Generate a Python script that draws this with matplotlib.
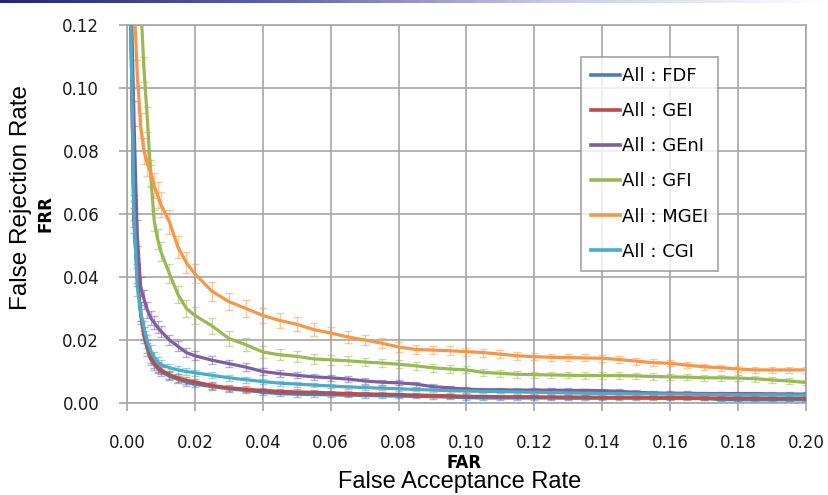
import numpy as np
import matplotlib
matplotlib.use("Agg")
import matplotlib.pyplot as plt
from matplotlib.colors import LinearSegmentedColormap

# ---------------- data ----------------
far = [0.001, 0.002, 0.003, 0.004, 0.005, 0.006, 0.007, 0.008, 0.009, 0.010,
       0.0125, 0.015, 0.0175, 0.020,
       0.025, 0.030, 0.035, 0.040, 0.045, 0.050, 0.055, 0.060, 0.065, 0.070,
       0.075, 0.080, 0.085, 0.090, 0.095, 0.100, 0.105, 0.110, 0.115, 0.120,
       0.125, 0.130, 0.135, 0.140, 0.145, 0.150, 0.155, 0.160, 0.165, 0.170,
       0.175, 0.180, 0.185, 0.190, 0.195, 0.200]

frr_fdf = [0.130, 0.058, 0.040, 0.028, 0.021, 0.017, 0.0138, 0.0122, 0.0110, 0.0100,
           0.0085, 0.0075, 0.0066, 0.0060,
           0.0052, 0.0045, 0.0040, 0.0034, 0.0030, 0.0028, 0.0027, 0.0026, 0.0025, 0.0024,
           0.0023, 0.0022, 0.0021, 0.0020, 0.0019, 0.0017, 0.0016, 0.0016, 0.0016, 0.0016,
           0.0016, 0.0015, 0.0015, 0.0015, 0.0015, 0.0015, 0.0015, 0.0014, 0.0014, 0.0014,
           0.0011, 0.0010, 0.0010, 0.0010, 0.0010, 0.0010]
frr_gei = [0.130, 0.060, 0.041, 0.029, 0.022, 0.018, 0.0145, 0.0128, 0.0115, 0.0105,
           0.0090, 0.0080, 0.0072, 0.0067,
           0.0056, 0.0048, 0.0044, 0.0040, 0.0037, 0.0035, 0.0034, 0.0032, 0.0030, 0.0029,
           0.0028, 0.0027, 0.0025, 0.0024, 0.0023, 0.0021, 0.0021, 0.0020, 0.0020, 0.0020,
           0.0019, 0.0019, 0.0019, 0.0018, 0.0018, 0.0018, 0.0017, 0.0017, 0.0017, 0.0016,
           0.0016, 0.0016, 0.0016, 0.0015, 0.0015, 0.0015]
frr_geni = [0.140, 0.092, 0.054, 0.037, 0.033, 0.0295, 0.027, 0.0255, 0.024, 0.0228,
            0.0200, 0.0180, 0.0160, 0.0150,
            0.0136, 0.0125, 0.0114, 0.0100, 0.0093, 0.0088, 0.0083, 0.0080, 0.0076, 0.0070,
            0.0066, 0.0064, 0.0060, 0.0052, 0.0048, 0.0044, 0.0042, 0.0042, 0.0041, 0.0041,
            0.0041, 0.0040, 0.0040, 0.0039, 0.0037, 0.0034, 0.0032, 0.0031, 0.0031, 0.0030,
            0.0030, 0.0030, 0.0030, 0.0029, 0.0029, 0.0028]
frr_gfi = [0.220, 0.190, 0.160, 0.128, 0.106, 0.090, 0.072, 0.058, 0.052, 0.048,
           0.041, 0.0345, 0.030, 0.0278,
           0.0245, 0.0205, 0.0185, 0.0162, 0.0153, 0.0148, 0.0140, 0.0137, 0.0134, 0.0130,
           0.0127, 0.0123, 0.0118, 0.0112, 0.0108, 0.0105, 0.0097, 0.0094, 0.0091, 0.0090,
           0.0089, 0.0088, 0.0087, 0.0087, 0.0087, 0.0086, 0.0084, 0.0083, 0.0082, 0.0080,
           0.0080, 0.0079, 0.0077, 0.0073, 0.0070, 0.0065]
frr_mgei = [0.160, 0.130, 0.105, 0.088, 0.080, 0.076, 0.073, 0.069, 0.066, 0.063,
            0.0575, 0.0495, 0.0445, 0.041,
            0.0355, 0.0322, 0.0300, 0.0278, 0.0262, 0.0250, 0.0233, 0.0222, 0.0210, 0.0200,
            0.0190, 0.0178, 0.0170, 0.0168, 0.0166, 0.0163, 0.0160, 0.0155, 0.0150, 0.0147,
            0.0145, 0.0144, 0.0143, 0.0142, 0.0138, 0.0133, 0.0128, 0.0126, 0.0120, 0.0115,
            0.0112, 0.0108, 0.0105, 0.0105, 0.0105, 0.0105]
frr_cgi = [0.130, 0.062, 0.037, 0.029, 0.024, 0.0195, 0.0165, 0.0145, 0.0130, 0.0122,
           0.0112, 0.0105, 0.0100, 0.0096,
           0.0088, 0.0080, 0.0074, 0.0068, 0.0063, 0.0060, 0.0057, 0.0054, 0.0051, 0.0049,
           0.0047, 0.0045, 0.0043, 0.0041, 0.0039, 0.0038, 0.0037, 0.0036, 0.0035, 0.0034,
           0.0033, 0.0032, 0.0031, 0.0030, 0.0030, 0.0029, 0.0029, 0.0028, 0.0028, 0.0027,
           0.0027, 0.0026, 0.0026, 0.0026, 0.0025, 0.0025]

err_low = [0.004, 0.004, 0.003, 0.003, 0.002, 0.002, 0.0018, 0.0016, 0.0015, 0.0014,
           0.0013, 0.0012, 0.0011, 0.0010,
           0.0010, 0.0009, 0.0009, 0.0008, 0.0008, 0.0008, 0.0007, 0.0007, 0.0007, 0.0007,
           0.0006, 0.0006, 0.0006, 0.0006, 0.0006, 0.0006, 0.0005, 0.0005, 0.0005, 0.0005,
           0.0005, 0.0005, 0.0005, 0.0005, 0.0005, 0.0005, 0.0005, 0.0005, 0.0005, 0.0005,
           0.0005, 0.0005, 0.0005, 0.0005, 0.0005, 0.0005]
err_geni = [0.004, 0.004, 0.004, 0.003, 0.003, 0.0025, 0.0022, 0.0020, 0.0019, 0.0018,
            0.0017, 0.0016, 0.0015, 0.0014,
            0.0013, 0.0012, 0.0012, 0.0011, 0.0011, 0.0010, 0.0010, 0.0009, 0.0009, 0.0009,
            0.0008, 0.0008, 0.0008, 0.0008, 0.0007, 0.0007, 0.0007, 0.0007, 0.0007, 0.0007,
            0.0007, 0.0007, 0.0006, 0.0006, 0.0006, 0.0006, 0.0006, 0.0006, 0.0006, 0.0006,
            0.0006, 0.0006, 0.0006, 0.0006, 0.0006, 0.0006]
err_gfi = [0.004, 0.004, 0.004, 0.004, 0.004, 0.004, 0.0035, 0.0033, 0.0032, 0.0030,
           0.0030, 0.0028, 0.0027, 0.0026,
           0.0025, 0.0023, 0.0021, 0.0019, 0.0018, 0.0017, 0.0016, 0.0015, 0.0014, 0.0014,
           0.0013, 0.0013, 0.0012, 0.0012, 0.0012, 0.0011, 0.0011, 0.0011, 0.0011, 0.0010,
           0.0010, 0.0010, 0.0010, 0.0010, 0.0010, 0.0010, 0.0010, 0.0010, 0.0009, 0.0009,
           0.0009, 0.0009, 0.0009, 0.0009, 0.0009, 0.0009]
err_mgei = [0.004, 0.004, 0.004, 0.004, 0.004, 0.004, 0.004, 0.004, 0.004, 0.004,
            0.0038, 0.0035, 0.0033, 0.0030,
            0.0030, 0.0028, 0.0026, 0.0025, 0.0023, 0.0022, 0.0020, 0.0019, 0.0018, 0.0017,
            0.0016, 0.0015, 0.0015, 0.0014, 0.0014, 0.0013, 0.0013, 0.0013, 0.0012, 0.0012,
            0.0012, 0.0012, 0.0011, 0.0011, 0.0011, 0.0011, 0.0011, 0.0010, 0.0010, 0.0010,
            0.0010, 0.0010, 0.0010, 0.0010, 0.0010, 0.0010]

labels = ["All : FDF", "All : GEI", "All : GEnI", "All : GFI", "All : MGEI", "All : CGI"]
colors = ["#4A7EBB", "#BE4B48", "#7D5FA0", "#98B954", "#F79646", "#4BACC6"]
series = [frr_fdf, frr_gei, frr_geni, frr_gfi, frr_mgei, frr_cgi]
errors = [err_low, err_low, err_geni, err_gfi, err_mgei, err_low]

x_ticks = [0.00, 0.02, 0.04, 0.06, 0.08, 0.10, 0.12, 0.14, 0.16, 0.18, 0.20]
y_ticks = [0.00, 0.02, 0.04, 0.06, 0.08, 0.10, 0.12]

# ---------------- figure ----------------
W, H = 829, 495
fig = plt.figure(figsize=(W / 100, H / 100), dpi=100)
fig.patch.set_facecolor("white")

# slide header gradient bar
bar_ax = fig.add_axes([0, 1 - 3.5 / H, 1, 3.5 / H])
cmap = LinearSegmentedColormap.from_list("hdr", ["#1f2675", "#5c63a8", "#c9cbe6", "#ffffff"])
bar_ax.imshow(np.linspace(0, 1, 256)[None, :], aspect="auto", cmap=cmap,
              extent=[0, 1, 0, 1])
bar_ax.axis("off")

ax = fig.add_axes([127 / W, 1 - 403 / H, (806 - 127) / W, (403 - 25) / H])

grid_c = "#a6a6a6"
for s, e, c, lab in zip(series, errors, colors, labels):
    ax.errorbar(far, s, yerr=e, fmt="none", ecolor=c, alpha=0.5,
                elinewidth=1.0, capsize=3.2, capthick=1.0, zorder=2)
for s, c, lab in zip(series, colors, labels):
    ax.plot(far, s, color=c, lw=2.3, label=lab, zorder=3, solid_joinstyle="round")

ax.set_xlim(0, 0.20)
ax.set_ylim(0, 0.12)
ax.set_xticks(x_ticks)
ax.set_yticks(y_ticks)
ax.set_xticklabels([f"{v:.2f}" for v in x_ticks])
ax.set_yticklabels([f"{v:.2f}" for v in y_ticks])
ax.grid(True, color=grid_c, lw=1.2)
ax.set_axisbelow(True)
for sp in ax.spines.values():
    sp.set_color(grid_c)
    sp.set_linewidth(1.2)
ax.tick_params(axis="both", which="both", direction="out", length=6, width=1.2,
               color=grid_c, labelsize=12, labelcolor="#1a1a1a")
ax.tick_params(axis="x", pad=16)
ax.tick_params(axis="y", pad=14)
for t in ax.get_xticklabels() + ax.get_yticklabels():
    t.set_family("DejaVu Sans")

leg = ax.legend(loc="upper left", bbox_to_anchor=((581 - 127) / 679, (403 - 57) / 378),
                frameon=True, fancybox=False, shadow=False, prop={"family": "DejaVu Sans", "size": 13},
                handlelength=1.6, handletextpad=0.1, labelspacing=0.95, borderpad=0.55,
                borderaxespad=0.0)
leg.get_frame().set_edgecolor("#8c8c8c")
leg.get_frame().set_linewidth(1.2)
for line in leg.get_lines():
    line.set_linewidth(2.6)

# axis titles
fig.text(21 / W, 1 - 197 / H, "False Rejection Rate", rotation=90, ha="center", va="center",
         fontsize=17.5, family="Liberation Sans")
fig.text(46 / W, 1 - 214 / H, "FRR", rotation=90, ha="center", va="center",
         fontsize=12, family="DejaVu Sans", fontweight="bold")
fig.text(464 / W, 1 - 463 / H, "FAR", ha="center", va="center",
         fontsize=12, family="DejaVu Sans", fontweight="bold")
fig.text(460 / W, 1 - 482 / H, "False Acceptance Rate", ha="center", va="center",
         fontsize=17, family="Liberation Sans")

fig.savefig("out.png", dpi=100, facecolor="white")
